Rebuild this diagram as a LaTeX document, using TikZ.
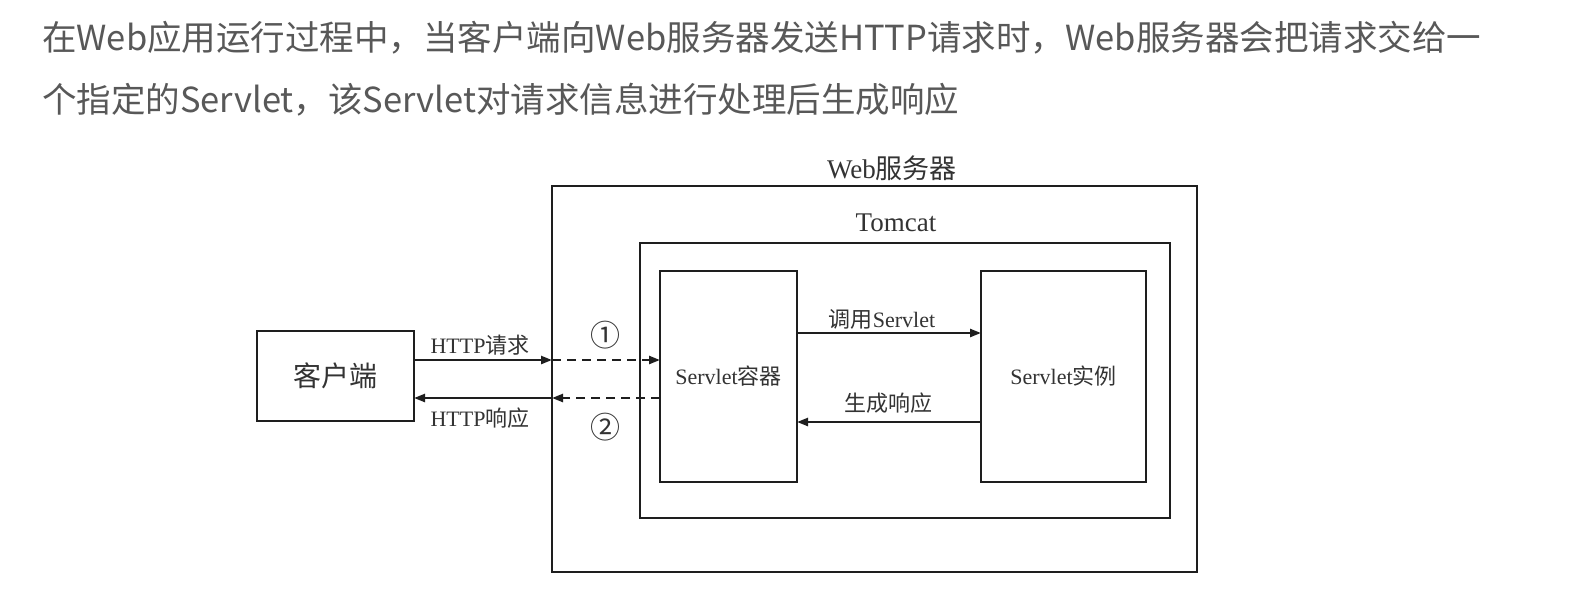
\documentclass[tikz,border=0pt]{standalone}
\usepackage{fontspec}
\setmainfont{Liberation Serif}
\newfontfamily\cjk{Noto Sans CJK SC}
\usetikzlibrary{arrows.meta}
\definecolor{hdr}{HTML}{585858}
\definecolor{txt}{HTML}{333333}
\definecolor{ln}{HTML}{1E1E1E}
\tikzset{
  boxnode/.style={draw=ln, line width=2.8pt, minimum width=#1, inner sep=0pt, outer sep=0pt},
  hdrtext/.style={anchor=west, text=hdr, inner sep=0pt, font=\cjk\fontsize{34.5}{40}\selectfont},
  lbl/.style={text=txt, inner sep=0pt, font=\fontsize{22}{26}\selectfont},
  biglbl/.style={text=txt, inner sep=0pt, font=\fontsize{27}{31}\selectfont},
  arr/.style={draw=ln, line width=2.3pt, -{Triangle[length=11pt,width=8pt]}},
  dasharr/.style={arr, dash pattern=on 9pt off 6pt}
}
\begin{document}
\begin{tikzpicture}[x=1pt,y=-1pt]
\useasboundingbox[fill=white] (0,0) rectangle (1573,595);
% header
\node[hdrtext] (h1) at (42,38) {在Web应用运行过程中，当客户端向Web服务器发送HTTP请求时，Web服务器会把请求交给一};
\node[hdrtext] (h2) at (42,100) {个指定的Servlet，该Servlet对请求信息进行处理后生成响应};
% boxes
\node[boxnode=645pt, minimum height=386pt] (web) at (874.5,379) {};
\node[boxnode=530pt, minimum height=275pt] (tomcat) at (905,380.5) {};
\node[boxnode=137pt, minimum height=211pt, lbl] (container) at (728.5,376.5) {Servlet{\cjk 容器}};
\node[boxnode=165pt, minimum height=211pt, lbl] (instance) at (1063.5,376.5) {Servlet{\cjk 实例}};
\node[boxnode=157pt, minimum height=90pt, text=txt, font=\cjk\fontsize{28}{32}\selectfont] (client) at (335.5,376) {客户端};
% titles
\node[biglbl] (webl) at (892,168) {Web{\cjk 服务器}};
\node[biglbl] (tomcatl) at (896,223) {Tomcat};
% coordinates
\coordinate (req) at (552,360);
\coordinate (resp) at (552,398);
\coordinate (call) at (0,333);
\coordinate (gen) at (0,422);
% arrows
\draw[arr] (client.east |- req) -- (req);
\draw[dasharr] (req) -- (container.west |- req);
\draw[dasharr] (container.west |- resp) -- (resp);
\draw[arr] (resp) -- (client.east |- resp);
\draw[arr] (container.east |- call) -- (instance.west |- call);
\draw[arr] (instance.west |- gen) -- (container.east |- gen);
% labels
\node[lbl] (lreq) at (480,345) {HTTP{\cjk 请求}};
\node[lbl] (lresp) at (480,418) {HTTP{\cjk 响应}};
\node[lbl, font=\cjk\fontsize{30}{34}\selectfont] (n1) at (605,335) {①};
\node[lbl, font=\cjk\fontsize{30}{34}\selectfont] (n2) at (605,427) {②};
\node[lbl] (lcall) at (882,319) {{\cjk 调用}Servlet};
\node[lbl, font=\cjk\fontsize{22}{26}\selectfont] (lgen) at (888,403) {生成响应};
\end{tikzpicture}
\end{document}
